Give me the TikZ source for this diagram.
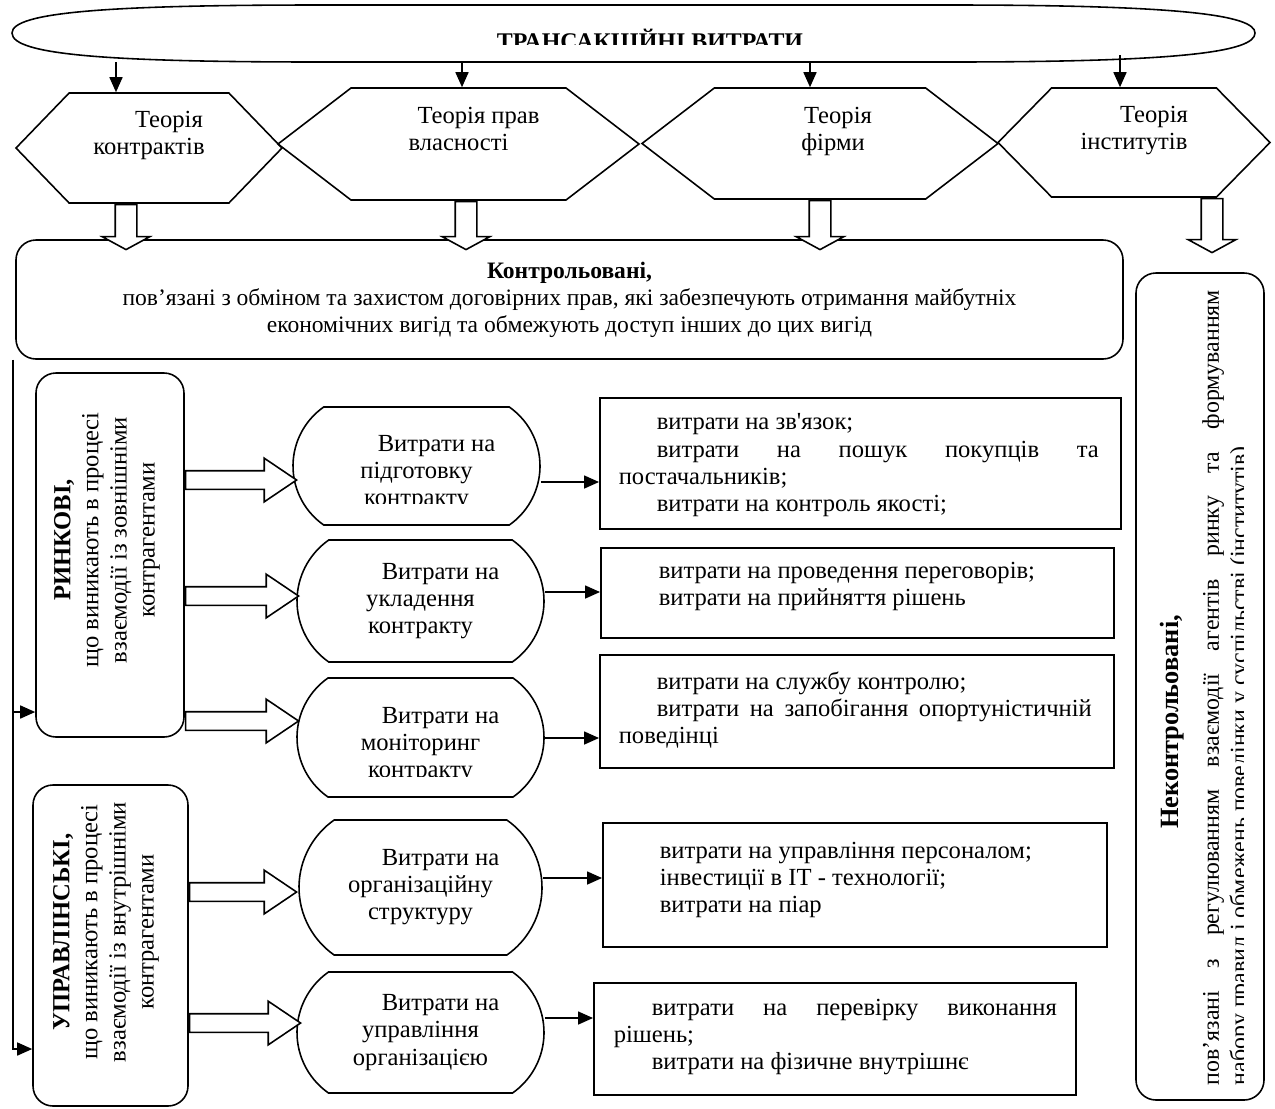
\documentclass[tikz,border=0pt]{standalone}
\usepackage{fontspec}
\setmainfont{Liberation Serif}
\usetikzlibrary{arrows.meta,calc,positioning,shapes.symbols,shapes.misc,shapes.arrows}

\newcommand{\firstind}{\hspace*{8mm}}
\newcommand{\parind}{\hspace*{7.6mm}}

\tikzset{
  >={Triangle[length=3mm,width=2.6mm]},
  every node/.style={font=\fontsize{14}{15.4}\selectfont},
  hexa/.style={draw, signal, signal to=west and east, inner sep=0pt},
  hextext/.style={align=center, inner sep=0pt},
  pill/.style={draw, rounded rectangle, rounded rectangle arc length=110,
    inner sep=0pt, align=center},
  costbox/.style={draw, rectangle, line width=1.1pt, inner sep=0pt},
  costtext/.style={anchor=north west, align=justify, inner sep=0pt},
  groupbox/.style={draw, rectangle, rounded corners=4mm, inner sep=0pt, align=center},
  sidetext/.style={rotate=90, align=center, inner sep=0pt, font=\fontsize{14}{16}\selectfont},
  blockdown/.style={draw, fill=white, single arrow, rotate=-90, anchor=tail,
    inner xsep=0pt, inner ysep=2mm, single arrow head extend=2.6mm,
    single arrow tip angle=123},
  blockright/.style={draw, fill=white, single arrow, anchor=tail,
    inner xsep=0pt, inner ysep=1.7mm, single arrow head extend=2.5mm,
    single arrow tip angle=68},
}

\begin{document}
\begin{tikzpicture}[x=0.2mm, y=-0.2mm, line width=0.9pt]
\useasboundingbox (0,0) rectangle (1275,1108);

% top oval
\draw (12,33) .. controls (12,12) and (110,5) .. (320,5) -- (950,5)
  .. controls (1180,5) and (1255,15) .. (1255,33)
  .. controls (1255,52) and (1180,62) .. (950,62) -- (320,62)
  .. controls (110,62) and (12,55) .. cycle;
\begin{scope}
  \clip (450,25) rectangle (850,44);
  \node[font=\fontsize{13.6}{15}\selectfont\bfseries, anchor=base, inner sep=0pt] (title) at (650,49) {ТРАНСАКЦІЙНІ ВИТРАТИ};
\end{scope}

% theories
\node[hexa, signal pointer angle=92, minimum width=53.2mm, minimum height=22mm,
  label={[hextext, yshift=2.6mm]center:{\firstind Теорія\\контрактів}}] (h1) at (149,148) {};
\node[hexa, signal pointer angle=75, minimum width=72.2mm, minimum height=22.4mm,
  label={[hextext, yshift=3mm]center:{\firstind Теорія прав\\власності}}] (h2) at (458.5,144) {};
\node[hexa, signal pointer angle=75, minimum width=71.2mm, minimum height=22.2mm,
  label={[hextext, xshift=2.6mm, yshift=2.4mm]center:{\hspace*{2mm}Теорія\\фірми}}] (h3) at (820,143.5) {};
\node[hexa, signal pointer angle=91, minimum width=54.4mm, minimum height=21.8mm,
  label={[hextext, yshift=2.4mm]center:{\firstind Теорія\\інститутів}}] (h4) at (1134,142.5) {};

\coordinate (e1) at (116,62);
\coordinate (e2) at (462,62);
\coordinate (e3) at (810,62);
\coordinate (e4) at (1120,55);
\draw[->] (e1) -- (e1 |- h1.north);
\draw[->] (e2) -- (e2 |- h2.north);
\draw[->] (e3) -- (e3 |- h3.north);
\draw[->] (e4) -- (e4 |- h4.north);

% controlled / uncontrolled
\node[groupbox, minimum width=221.4mm, minimum height=23.8mm,
  font=\fontsize{13.4}{15.3}\selectfont] (ctrl) at (569.5,299.5)
  {\textbf{Контрольовані,}\\
   пов’язані з обміном та захистом договірних прав, які забезпечують отримання майбутніх\\
   економічних вигід та обмежують доступ інших до цих вигід};
\node[groupbox, rotate=90, minimum width=165.4mm, minimum height=25.6mm] (unctrl) at (1200,686.5) {};
\node[rotate=90, inner sep=0pt, font=\fontsize{15}{16}\selectfont\bfseries] (unctrlhead) at (1172,722) {Неконтрольовані,};
\begin{scope}
  \clip (1136,273) rectangle (1243,1100);
  \node[rotate=90, text width=159mm, align=justify, inner sep=0pt,
    font=\fontsize{13.6}{15.8}\selectfont] (unctrltext) at (1227,687.5)
    {пов’язані з регулюванням взаємодії агентів ринку та формуванням\linebreak
     набору правил і обмежень поведінки у суспільстві (інститутів)};
\end{scope}

\node[blockdown, minimum height=9mm] (d1) at (h1.south -| 126,0) {};
\node[blockdown, minimum height=9.6mm] (d2) at (h2.south -| 466,0) {};
\node[blockdown, minimum height=9.8mm] (d3) at (h3.south -| 820,0) {};
\node[blockdown, minimum height=10.8mm] (d4) at (h4.south -| 1212,0) {};

% market and managerial
\node[groupbox, rotate=90, minimum width=72.8mm, minimum height=29.6mm] (rin) at (110,555) {};
\node[sidetext] (rintext) at (107,540)
  {\textbf{РИНКОВІ,}\\що виникають в процесі\\взаємодії із зовнішніми\\контрагентами};
\node[groupbox, rotate=90, minimum width=64.2mm, minimum height=31mm] (upr) at (110.5,945.5) {};
\node[sidetext] (uprtext) at (106,932)
  {\textbf{УПРАВЛІНСЬКІ,}\\що виникають в процесі\\взаємодії із внутрішніми\\контрагентами};

\coordinate (lt) at ([xshift=-0.4mm]ctrl.south west);
\draw[->] (lt) |- (rin.north |- 0,712);
\draw[->] (lt) |- (upr.north |- 0,1049);

% kinds of costs
\node[pill, minimum width=49.4mm, minimum height=23.6mm] (s1) at (416.5,466) {};
\begin{scope}
  \clip (293,407) rectangle (540,503);
  \node[align=center, inner sep=0pt] (s1text) at (416.5,473) {\firstind Витрати на\\підготовку\\контракту};
\end{scope}
\node[pill, minimum width=49.4mm, minimum height=24.4mm] (s2) at (420.5,601)
  {\firstind Витрати на\\укладення\\контракту};
\node[pill, minimum width=49.4mm, minimum height=23.8mm] (s3) at (420.5,737.5) {};
\begin{scope}
  \clip (297,678) rectangle (544,776);
  \node[align=center, inner sep=0pt] (s3text) at (420.5,745) {\firstind Витрати на\\моніторинг\\контракту};
\end{scope}
\node[pill, minimum width=48.6mm, minimum height=27mm] (s4) at (420.5,887.5)
  {\firstind Витрати на\\організаційну\\структуру};
\node[pill, minimum width=49.4mm, minimum height=24.2mm] (s5) at (420.5,1032.5)
  {\firstind Витрати на\\управління\\організацією};

\node[blockright, minimum height=22.2mm] (a1) at (rin.south |- 0,480) {};
\node[blockright, minimum height=22.6mm] (a2) at (rin.south |- 0,596) {};
\node[blockright, minimum height=22.6mm] (a3) at (rin.south |- 0,721) {};
\node[blockright, minimum height=21.4mm] (a4) at (upr.south |- 0,892) {};
\node[blockright, minimum height=22.2mm] (a5) at (upr.south |- 0,1023) {};

% lists
\node[costbox, minimum width=104.2mm, minimum height=26.2mm,
  label={[costtext, text width=96mm, xshift=3.8mm, yshift=-3.2mm]north west:{%
    \parind витрати на зв\textquotesingle язок;\endgraf
    \parind витрати на пошук покупців та\linebreak постачальників;\endgraf
    \parind витрати на контроль якості;}}] (r1) at (860.5,463.5) {};
\node[costbox, minimum width=102.6mm, minimum height=18mm,
  label={[costtext, text width=94.6mm, xshift=4mm, yshift=-2.8mm]north west:{%
    \parind витрати на проведення переговорів;\endgraf
    \parind витрати на прийняття рішень}}] (r2) at (857.5,593) {};
\node[costbox, minimum width=102.8mm, minimum height=22.6mm,
  label={[costtext, text width=94.6mm, xshift=3.8mm, yshift=-3.4mm]north west:{%
    \parind витрати на службу контролю;\endgraf
    \parind витрати на запобігання опортуністичній\linebreak поведінці}}] (r3) at (857,711.5) {};
\node[costbox, minimum width=100.8mm, minimum height=24.8mm,
  label={[costtext, text width=94mm, xshift=3.8mm, yshift=-3.8mm]north west:{%
    \parind витрати на управління персоналом;\endgraf
    \parind інвестиції в IT - технології;\endgraf
    \parind витрати на піар}}] (r4) at (855,885) {};
\node[costbox, minimum width=96.4mm, minimum height=22.4mm,
  label={[costtext, text width=88.6mm, xshift=4mm, yshift=-3.2mm]north west:{%
    \parind витрати на перевірку виконання\linebreak рішень;\endgraf
    \parind\parfillskip=0pt витрати на фізичне внутрішнє}}] (r5) at (835,1039) {};

\draw[->] (s1.east |- 0,482) -- (r1.west |- 0,482);
\draw[->] (s2.east |- 0,592) -- (r2.west |- 0,592);
\draw[->] (s3.east |- 0,738) -- (r3.west |- 0,738);
\draw[->] (s4.east |- 0,878) -- (r4.west |- 0,878);
\draw[->] (s5.east |- 0,1018) -- (r5.west |- 0,1018);
\end{tikzpicture}
\end{document}
